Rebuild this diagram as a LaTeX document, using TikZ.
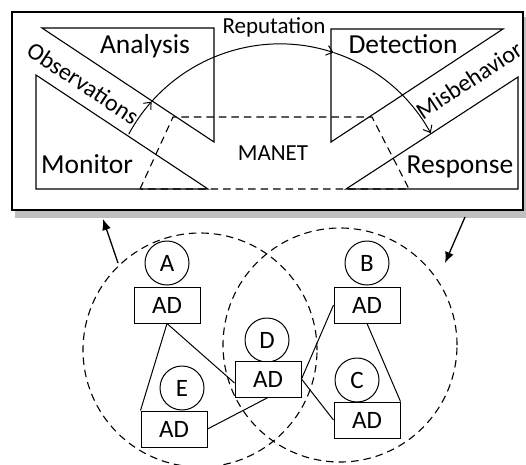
\documentclass[tikz,border=0pt]{standalone}
\usepackage{fontspec}
\setmainfont{Carlito}
\usetikzlibrary{arrows.meta}
\begin{document}
\begin{tikzpicture}[x=1pt,y=-1pt,
  tri/.style={line width=1.1pt},
  lbl/.style={font=\fontsize{27.5}{30}\selectfont, anchor=base, inner sep=0pt},
  small/.style={font=\fontsize{23}{26}\selectfont, inner sep=0pt},
  slant/.style={font=\fontsize{24}{27}\selectfont, inner sep=0pt},
  ring/.style={draw, circle, dash pattern=on 7.5pt off 5pt, line width=1.1pt, minimum size=234pt, inner sep=0pt},
  host/.style={draw, circle, minimum size=44pt, inner sep=0pt, line width=1pt, fill=white, font=\fontsize{25}{28}\selectfont},
  adbox/.style={draw, rectangle, minimum width=66pt, minimum height=36pt, inner sep=0pt, line width=1pt, fill=white, font=\fontsize{25}{28}\selectfont},
  link/.style={line width=1pt},
  flow/.style={line width=1pt, -{Straight Barb[length=6pt,width=10pt]}},
  bigarrow/.style={line width=1.3pt, -{Latex[length=11pt,width=9pt]}}
]
\useasboundingbox (0,0) rectangle (526,464);

% frame with shadow
\fill[gray!50] (15,17) rectangle (527,218);
\draw[line width=1.5pt, fill=white] (12,12) rectangle (523,210);

% triangles
\draw[tri] (42,28) -- (214,28) -- (214,142) -- cycle;
\draw[tri] (36,75) -- (36,189) -- (208,189) -- cycle;
\draw[tri] (331,29) -- (503,29) -- (331,142) -- cycle;
\draw[tri] (518,77) -- (518,189) -- (346,189) -- cycle;

% MANET area
\draw[tri, dash pattern=on 7.5pt off 5pt] (140,189) -- (173,117) -- (372,117) -- (409,189) -- cycle;

% arc with arrows
\coordinate (ac) at (280,216);
\draw[flow] ([shift={(151.6:172pt)}]ac) arc[start angle=151.6, end angle=138.3, radius=172pt];
\draw[flow] ([shift={(138.3:172pt)}]ac) arc[start angle=138.3, end angle=71.9, radius=172pt];
\draw[flow] ([shift={(71.9:172pt)}]ac) arc[start angle=71.9, end angle=28.8, radius=172pt];

% labels
\node[lbl] (tAna) at (145,53) {Analysis};
\node[lbl] (tMon) at (87,173) {Monitor};
\node[lbl] (tDet) at (403,53) {Detection};
\node[lbl] (tRes) at (460,173) {Response};
\node[small, anchor=base] (tMan) at (273,160) {MANET};
\node[small, anchor=base] (tRep) at (274,33) {Reputation};
\node[slant, rotate=-33.5] (tObs) at (83,83) {Observations};
\node[slant, rotate=33.3] (tMis) at (469,80) {Misbehavior};

% coverage zones
\node[ring] (zoneL) at (200,350) {};
\node[ring] (zoneR) at (340,345) {};

% hosts
\node[host] (A) at (167,263) {A};
\node[adbox] (Aad) at (167,305) {AD};
\node[host] (B) at (367,263) {B};
\node[adbox] (Bad) at (367,305) {AD};
\node[host] (D) at (267,340) {D};
\node[adbox] (Dad) at (268,379) {AD};
\node[host] (E) at (182,388) {E};
\node[adbox] (Ead) at (174,429) {AD};
\node[host] (C) at (357,380) {C};
\node[adbox] (Cad) at (367,420) {AD};

% links
\draw[link] (Aad.south) -- ([yshift=-4pt]Dad.west);
\draw[link] (Aad.south) -- (Ead.north west);
\draw[link] (Bad.west) -- (Dad.east);
\draw[link] (Bad.south) -- (Cad.north east);
\draw[link] (Dad.east) -- (Cad.west);
\draw[link] (Dad.south) -- (Ead.east);

% arrows between network and frame
\coordinate (l1) at (118,263);
\coordinate (l2) at (103,219);
\coordinate (r1) at (465,217);
\coordinate (r2) at (445,263);
\draw[bigarrow] (l1) -- (l2);
\draw[bigarrow] (r1) -- (r2);
\end{tikzpicture}
\end{document}
